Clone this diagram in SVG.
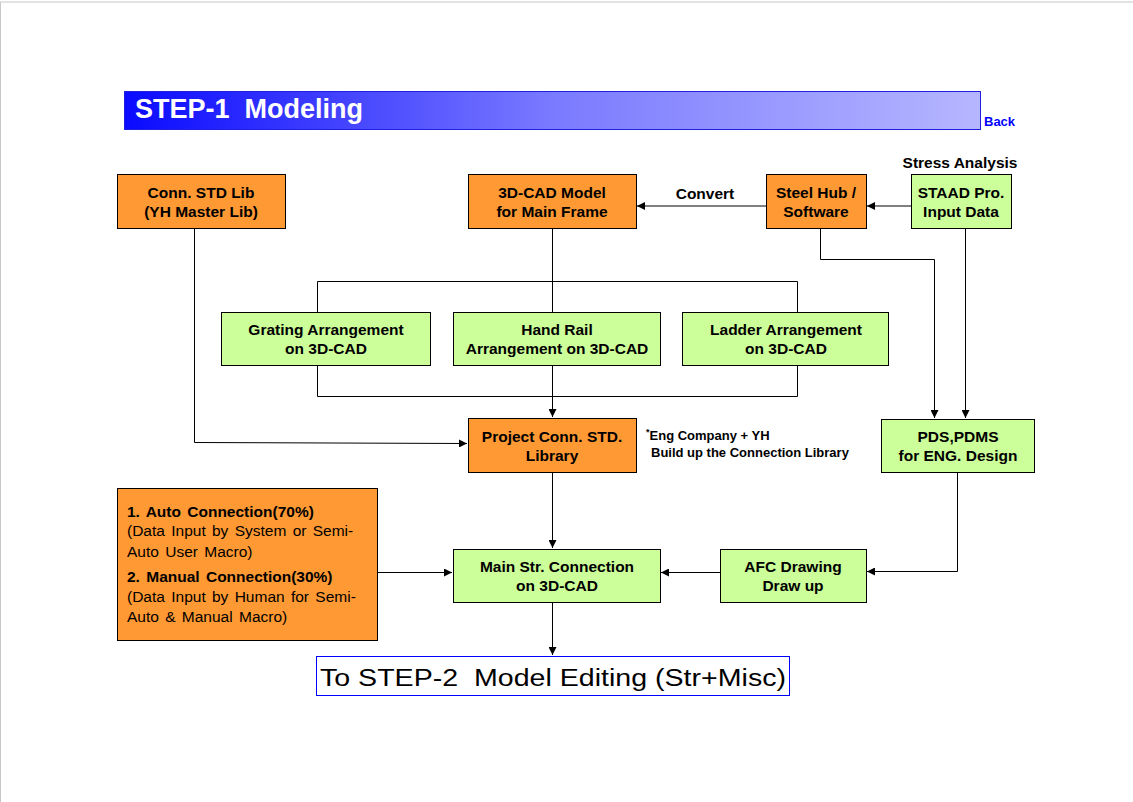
<svg xmlns="http://www.w3.org/2000/svg" width="1133" height="802" viewBox="0 0 1133 802">
<defs>
<linearGradient id="tg" x1="0" y1="0" x2="1" y2="0">
<stop offset="0" stop-color="#0a0aff"/>
<stop offset="0.5" stop-color="#7a7aff"/>
<stop offset="1" stop-color="#b6b6ff"/>
</linearGradient>
<marker id="ah" viewBox="0 0 10 10" refX="10" refY="5" markerWidth="8" markerHeight="8" markerUnits="userSpaceOnUse" orient="auto">
<path d="M0,0 L10,5 L0,10 z" fill="#000"/>
</marker>
<style>
.or{fill:#ff9933;stroke:#000;stroke-width:1}
.gr{fill:#ccff99;stroke:#000;stroke-width:1}
.t{font-family:"Liberation Sans",Arial,sans-serif;font-weight:bold;font-size:15.5px;fill:#000;text-anchor:middle}
.l{fill:none;stroke:#000;stroke-width:1}
.a{fill:none;stroke:#000;stroke-width:1;marker-end:url(#ah)}
.n{font-family:"Liberation Sans",Arial,sans-serif;font-size:15.5px;word-spacing:2px;fill:#000}
.nb{font-family:"Liberation Sans",Arial,sans-serif;font-weight:bold;font-size:15.5px;word-spacing:2px;fill:#000}
.note{font-family:"Liberation Sans",Arial,sans-serif;font-weight:bold;font-size:13px;fill:#000}
</style>
</defs>
<rect x="0" y="0" width="1133" height="802" fill="#fff"/>
<line x1="0" y1="2" x2="1133" y2="2" stroke="#c8c8c8" stroke-width="1"/>
<line x1="0.5" y1="2" x2="0.5" y2="802" stroke="#c8c8c8" stroke-width="1"/>

<g id="title">
<rect x="124.5" y="91.5" width="856" height="38" fill="url(#tg)" stroke="#2020e0" stroke-width="1"/>
<text x="135" y="118" font-family="Liberation Sans,Arial,sans-serif" font-weight="bold" font-size="27" fill="#fff" style="white-space:pre">STEP-1  Modeling</text>
</g>
<g id="back"><text x="984" y="126" font-family="Liberation Sans,Arial,sans-serif" font-weight="bold" font-size="13" fill="#0000ff">Back</text></g>

<g id="connectors">
<line class="a" x1="766" y1="206" x2="637" y2="206"/>
<line class="a" x1="911" y1="206" x2="867" y2="206"/>
<text class="t" x="705" y="199">Convert</text>
<text class="t" x="960" y="168">Stress Analysis</text>
<line class="l" x1="552.5" y1="228" x2="552.5" y2="312"/>
<polyline class="l" points="317.5,312 317.5,281.5 797.5,281.5 797.5,312"/>
<polyline class="l" points="317.5,365 317.5,396.5 797.5,396.5 797.5,365"/>
<line class="a" x1="552.5" y1="365" x2="552.5" y2="417"/>
<polyline class="a" points="194.5,228 194.5,442.5 467,443.5"/>
<polyline class="a" points="820.5,228 820.5,259.5 934.5,259.5 934.5,418"/>
<line class="a" x1="965.5" y1="228" x2="965.5" y2="418"/>
<line class="a" x1="552.5" y1="472" x2="552.5" y2="548"/>
<line class="a" x1="377" y1="572.5" x2="452" y2="572.5"/>
<line class="a" x1="720" y1="572.5" x2="661" y2="572.5"/>
<polyline class="a" points="957.5,472 957.5,571.5 867,571.5"/>
<line class="a" x1="552.5" y1="602" x2="552.5" y2="655"/>
</g>

<g id="conn-std-lib">
<rect class="or" x="117.5" y="174.5" width="168" height="54"/>
<text class="t" x="201" y="198">Conn. STD Lib</text>
<text class="t" x="201" y="217">(YH Master Lib)</text>
</g>
<g id="cad-model">
<rect class="or" x="468.5" y="174.5" width="168" height="54"/>
<text class="t" x="552" y="198">3D-CAD Model</text>
<text class="t" x="552" y="217">for Main Frame</text>
</g>
<g id="steel-hub">
<rect class="or" x="766.5" y="174.5" width="100" height="54"/>
<text class="t" x="816" y="198">Steel Hub /</text>
<text class="t" x="816" y="217">Software</text>
</g>
<g id="staad">
<rect class="gr" x="911.5" y="174.5" width="100" height="54"/>
<text class="t" x="961" y="198">STAAD Pro.</text>
<text class="t" x="961" y="217">Input Data</text>
</g>
<g id="grating">
<rect class="gr" x="221.5" y="312.5" width="209" height="53"/>
<text class="t" x="326" y="335">Grating Arrangement</text>
<text class="t" x="326" y="354">on 3D-CAD</text>
</g>
<g id="handrail">
<rect class="gr" x="453.5" y="312.5" width="207" height="53"/>
<text class="t" x="557" y="335">Hand Rail</text>
<text class="t" x="557" y="354">Arrangement on 3D-CAD</text>
</g>
<g id="ladder">
<rect class="gr" x="682.5" y="312.5" width="206" height="53"/>
<text class="t" x="786" y="335">Ladder Arrangement</text>
<text class="t" x="786" y="354">on 3D-CAD</text>
</g>
<g id="project-conn">
<rect class="or" x="468.5" y="418.5" width="168" height="54"/>
<text class="t" x="552" y="442">Project Conn. STD.</text>
<text class="t" x="552" y="461">Library</text>
</g>
<g id="note">
<text class="note" x="646" y="440"><tspan font-size="9" dy="-5">*</tspan><tspan dy="5">Eng Company + YH</tspan></text>
<text class="note" x="651" y="457">Build up the Connection Library</text>
</g>
<g id="pds">
<rect class="gr" x="881.5" y="419.5" width="153" height="53"/>
<text class="t" x="958" y="442">PDS,PDMS</text>
<text class="t" x="958" y="461">for ENG. Design</text>
</g>
<g id="connection-types">
<rect class="or" x="117.5" y="488.5" width="260" height="152"/>
<text class="nb" x="127" y="517">1. Auto Connection(70%)</text>
<text class="n" x="127" y="536">(Data Input by System or Semi-</text>
<text class="n" x="127" y="557">Auto User Macro)</text>
<text class="nb" x="127" y="582">2. Manual Connection(30%)</text>
<text class="n" x="127" y="602">(Data Input by Human for Semi-</text>
<text class="n" x="127" y="622">Auto &amp; Manual Macro)</text>
</g>
<g id="main-str">
<rect class="gr" x="453.5" y="549.5" width="207" height="53"/>
<text class="t" x="557" y="572">Main Str. Connection</text>
<text class="t" x="557" y="591">on 3D-CAD</text>
</g>
<g id="afc">
<rect class="gr" x="720.5" y="549.5" width="146" height="53"/>
<text class="t" x="793" y="572">AFC Drawing</text>
<text class="t" x="793" y="591">Draw up</text>
</g>
<g id="step2">
<rect x="316.5" y="656.5" width="473" height="39" fill="#fff" stroke="#0000ff" stroke-width="1"/>
<text x="320" y="686" font-family="Liberation Sans,Arial,sans-serif" font-size="23" fill="#000" textLength="466" lengthAdjust="spacingAndGlyphs" style="white-space:pre">To STEP-2  Model Editing (Str+Misc)</text>
</g>
</svg>
